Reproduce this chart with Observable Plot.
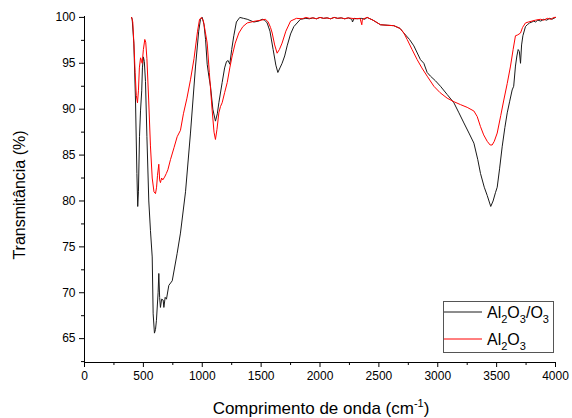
<!DOCTYPE html>
<html><head><meta charset="utf-8">
<script src="https://cdn.jsdelivr.net/npm/d3@7"></script>
<script src="https://cdn.jsdelivr.net/npm/@observablehq/plot@0.6"></script>
<style>body{margin:0;background:#fff;} svg{font-family:"Liberation Sans",Arial,sans-serif;}</style>
</head><body><div id="chart"></div>
<script>
const seriesNames = ["Al2O3/O3", "Al2O3"];
const xTicks = [0, 500, 1000, 1500, 2000, 2500, 3000, 3500, 4000];
const yTicks = [65, 70, 75, 80, 85, 90, 95, 100];

const blackX = [400,405,419,433,445,452,458,467,476,486,492,500,508,518,530,546,560,575,583,594,603,611,625,631,638,645,655,668,674,685,696,716,745,787,815,858,900,943,970,985,1000,1015,1028,1042,1056,1070,1090,1112,1128,1141,1169,1190,1206,1220,1234,1250,1268,1290,1319,1350,1382,1438,1480,1509,1530,1551,1575,1602,1625,1642,1660,1678,1700,1721,1750,1778,1834,1880,1910,1940,1970,2000,2030,2060,2090,2120,2150,2180,2210,2240,2270,2276,2290,2320,2350,2380,2400,2450,2514,2570,2627,2680,2712,2760,2797,2853,2882,2910,2938,2980,3023,3080,3137,3180,3222,3265,3307,3340,3363,3395,3420,3450,3470,3490,3505,3525,3547,3570,3590,3610,3632,3645,3660,3672,3683,3693,3703,3712,3723,3745,3760,3780,3800,3816,3830,3850,3875,3900,3925,3950,3970,3986,4000];
const blackY = [100,99.8,97.2,91.0,83,79.4,81,87,89.9,92,94.5,95.7,95.2,93,87,80,76.8,73.9,67.7,65.6,66,67.0,70,72.1,69.5,68.4,69.3,69.2,68.4,69.5,69.3,70.8,71.3,74.3,76.5,81.0,87.4,94.7,98.5,99.8,100,99.2,97.6,94.9,93.6,92.5,90,88.7,89.5,90.7,92.9,94.5,95.2,95.3,94.9,96.5,98.0,99.5,100,99.9,99.8,99.5,99.6,99.8,99.7,99.4,98.5,96.5,94.8,94.0,94.5,95.0,95.8,96.9,98.2,99.0,99.8,99.9,99.85,99.95,99.85,100,99.9,99.95,99.85,100,99.9,99.95,99.85,99.95,99.8,99.5,99.9,99.85,99.9,99.8,100,99.7,99.2,99.15,99.1,98.8,98.3,97.6,96.9,95.4,95.0,94.0,93.6,93.1,92.5,91.6,90.7,89.6,88.5,87.4,86.3,84.5,83.0,81.5,80.6,79.4,80.0,80.9,81.5,83.5,85.9,88.0,89.6,90.8,92.1,92.5,94.7,95.8,96.5,96.3,95.0,97,98.0,99.0,99.2,99.4,99.5,99.6,99.5,99.7,99.6,99.8,99.7,99.9,99.8,99.9,100,100];

const redX = [400,410,420,430,440,450,458,466,476,484,490,500,512,520,530,545,560,575,590,603,612,620,631,638,645,655,665,680,695,708,730,760,787,815,840,870,900,930,960,977,994,1010,1025,1042,1060,1084,1100,1112,1125,1141,1155,1169,1190,1212,1234,1254,1280,1311,1345,1382,1450,1500,1537,1560,1580,1594,1615,1636,1655,1678,1710,1750,1800,1850,1880,1910,1940,1970,2000,2030,2060,2090,2120,2150,2180,2210,2240,2270,2300,2340,2355,2360,2400,2450,2514,2570,2627,2680,2712,2740,2782,2825,2865,2910,2967,3020,3080,3140,3193,3250,3307,3335,3363,3390,3420,3445,3462,3480,3505,3535,3561,3590,3618,3640,3660,3680,3703,3720,3745,3770,3800,3830,3873,3900,3930,3960,3986,4000];
const redY = [100,99.5,97,94,91.5,90.7,92,94.5,95.6,95.3,95.0,96.5,97.6,97.3,95.5,91,86,82.5,81,80.8,81.5,82.8,84.0,82.3,82.0,82.5,82.3,82.6,83.0,83.4,84.5,85.8,87.0,87.7,89.5,91.2,93.2,95.5,98.5,99.8,100,99.6,98.5,97.2,94.0,89.9,87.5,86.7,87.8,89.6,90.3,90.7,91.8,92.9,94.5,95.8,97.2,98.3,99.0,99.4,99.6,99.7,99.8,99.5,98.9,98.3,97.0,96.1,96.5,97.2,98.5,99.6,99.9,99.85,100,99.9,99.95,99.85,100,99.9,99.95,99.85,100,99.9,99.95,99.85,99.95,99.9,99.85,99.9,99.2,99.8,100,99.7,99.2,99.15,99.1,98.8,98.3,97.6,96.5,95.4,94.5,93.6,92.5,91.8,91.2,90.8,90.5,90.2,89.8,89.2,88.1,87.2,86.5,86.1,86.1,86.5,87.4,89.3,91.0,92.8,94.7,96.5,98.0,98.1,98.3,98.9,99.4,99.5,99.6,99.7,99.8,99.7,99.9,99.8,100,100];

const black = blackX.map((x, i) => ({x, y: blackY[i]}));
const red = redX.map((x, i) => ({x, y: redY[i]}));

const W = 572, H = 418, mL = 84, mR = 17, mT = 16, mB = 56;
const yMin = 62.4, yMax = 100.1;
const minorX = d3.range(250, 4000, 500);
const minorY = d3.range(62.5, 100, 5);

const chart = Plot.plot({
  width: W, height: H,
  marginLeft: mL, marginRight: mR, marginTop: mT, marginBottom: mB,
  style: {fontFamily: '"Liberation Sans", Arial, sans-serif', fontSize: "12px", color: "#000", background: "#fff"},
  x: {domain: [0, 4000]},
  y: {domain: [yMin, yMax]},
  marks: [
    Plot.axisX({ticks: xTicks, tickSize: 5, tickPadding: 4, tickFormat: d3.format("d"), label: null, fontSize: 12}),
    Plot.axisX({ticks: minorX, tickSize: 3, tickFormat: () => "", label: null}),
    Plot.axisY({ticks: yTicks, tickSize: 5, tickPadding: 4, tickFormat: d3.format("d"), label: null, fontSize: 12}),
    Plot.axisY({ticks: minorY, tickSize: 3, tickFormat: () => "", label: null}),
    Plot.ruleX([0], {stroke: "#000"}),
    Plot.ruleY([yMin], {stroke: "#000"}),
    Plot.line(black, {x: "x", y: "y", stroke: "#1a1a1a", strokeWidth: 1}),
    Plot.line(red, {x: "x", y: "y", stroke: "#ff0000", strokeWidth: 1})
  ]
});
document.getElementById("chart").appendChild(chart);

const svg = d3.select(chart);
// axis titles
svg.append("text")
  .attr("transform", "translate(25,195) rotate(-90)")
  .attr("text-anchor", "middle")
  .style("font-size", "16px")
  .text("Transmitância (%)");
const xt = svg.append("text")
  .attr("x", 321).attr("y", 414)
  .attr("text-anchor", "middle")
  .style("font-size", "17px");
xt.append("tspan").text("Comprimento de onda (cm");
xt.append("tspan").attr("dy", -7).style("font-size", "11px").text("-1");
xt.append("tspan").attr("dy", 7).text(")");

// legend
const lg = svg.append("g").attr("text-anchor", "start");
lg.append("rect").attr("x", 443.5).attr("y", 301.5).attr("width", 110).attr("height", 51)
  .attr("fill", "#fff").attr("stroke", "#555");
const entries = [{color: "#1a1a1a", y: 312, parts: ["Al","2","O","3","/O","3"]},
                 {color: "#ff0000", y: 339, parts: ["Al","2","O","3"]}];
entries.forEach(e => {
  lg.append("line").attr("x1", 444).attr("x2", 482).attr("y1", e.y).attr("y2", e.y)
    .attr("stroke", e.color).attr("stroke-width", 1);
  const t = lg.append("text").attr("x", 487).attr("y", e.y + 5.5)
    .attr("text-anchor", "start").style("font-size", "16px");
  e.parts.forEach((p, i) => {
    const sub = i % 2 === 1;
    t.append("tspan").attr("dy", sub ? 5 : (i === 0 ? 0 : -5))
      .style("font-size", sub ? "11px" : "16px").text(p);
  });
});
</script>
</body></html>
